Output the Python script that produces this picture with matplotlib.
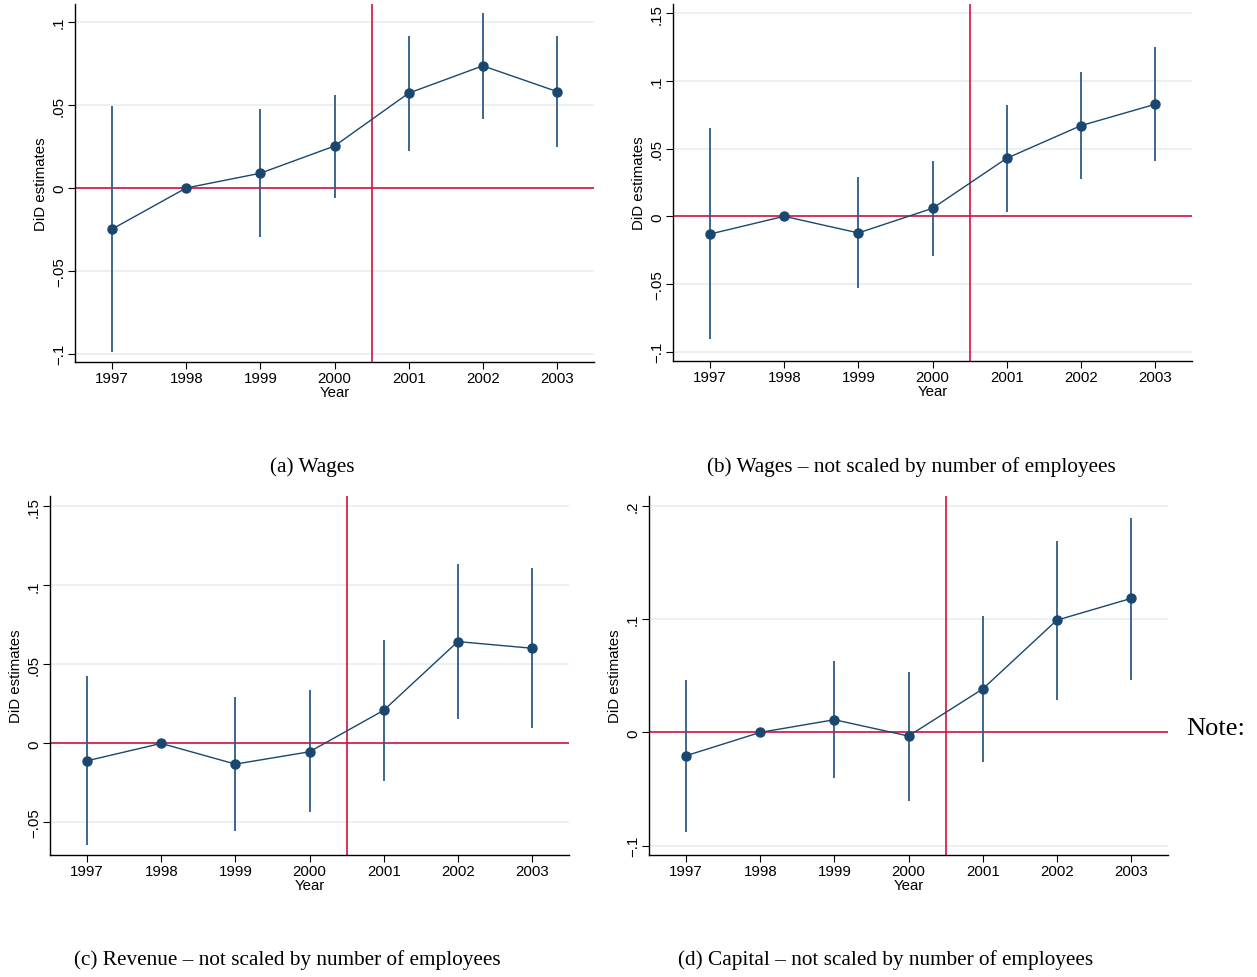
import matplotlib
matplotlib.use("Agg")
import matplotlib.pyplot as plt
from matplotlib.ticker import FuncFormatter

# event-study years
years = [1997, 1998, 1999, 2000, 2001, 2002, 2003]

# (a) Wages
wages_est = [-0.0248, 0.0, 0.0089, 0.0253, 0.0572, 0.0737, 0.0582]
wages_lo = [-0.099, 0.0, -0.0297, -0.0061, 0.0226, 0.0418, 0.0246]
wages_hi = [0.0495, 0.0, 0.0475, 0.0562, 0.0917, 0.1055, 0.0917]

# (b) Wages - not scaled
wages_ns_est = [-0.0131, 0.0, -0.0123, 0.0059, 0.0429, 0.067, 0.0828]
wages_ns_lo = [-0.0911, 0.0, -0.0532, -0.029, 0.0034, 0.0276, 0.0409]
wages_ns_hi = [0.0653, 0.0, 0.0288, 0.0406, 0.0823, 0.1067, 0.1249]

# (c) Revenue - not scaled
rev_est = [-0.011, 0.0, -0.0131, -0.0053, 0.0209, 0.0644, 0.0602]
rev_lo = [-0.0644, 0.0, -0.0553, -0.0437, -0.0241, 0.0152, 0.0097]
rev_hi = [0.0425, 0.0, 0.0292, 0.0336, 0.0655, 0.1137, 0.1109]

# (d) Capital - not scaled
cap_est = [-0.0206, 0.0, 0.0112, -0.0032, 0.0383, 0.0991, 0.1183]
cap_lo = [-0.0879, 0.0, -0.0407, -0.0605, -0.026, 0.0289, 0.0466]
cap_hi = [0.0463, 0.0, 0.0631, 0.0537, 0.1027, 0.1687, 0.1894]

captions = [
    "(a) Wages",
    "(b) Wages \u2013 not scaled by number of employees",
    "(c) Revenue \u2013 not scaled by number of employees",
    "(d) Capital \u2013 not scaled by number of employees",
]

NAVY = "#1a476f"
CI_COLOR = "#2f5c86"
RED = "#d2123f"
GRID = "#e8f0f2"
SANS = "Liberation Sans"
SERIF = "Liberation Serif"

W, H = 1257, 978


def stata_fmt(v, pos=None):
    # Stata style labels: .05, -.1, 0
    if abs(v) < 1e-12:
        return "0"
    s = ("%g" % abs(v)).lstrip("0")
    return ("\u2212" if v < 0 else "") + s


def px_axes(fig, left, right, top, bottom):
    return fig.add_axes([left / W, 1 - bottom / H, (right - left) / W, (bottom - top) / H])


def event_plot(ax, est, lo, hi, ylim, yticks):
    for t in yticks:
        ax.axhline(t, color=GRID, lw=1.3, zorder=0)
    ax.axhline(0, color=RED, lw=1.2, zorder=1)
    ax.axvline(2000.5, color=RED, lw=1.2, zorder=1)
    ax.vlines(years, lo, hi, color=CI_COLOR, lw=1.3, zorder=2)
    ax.plot(years, est, color=NAVY, lw=1.0, marker="o", ms=6.5, zorder=3)

    ax.set_xlim(1996.5, 2003.5)
    ax.set_ylim(*ylim)
    ax.set_xticks(years)
    ax.set_yticks(yticks)
    ax.yaxis.set_major_formatter(FuncFormatter(stata_fmt))
    for lab in ax.get_yticklabels():
        lab.set_rotation(90)
        lab.set_va("center")
    ax.tick_params(labelsize=10.8, length=5, width=0.8, color="black", pad=1.5)
    for lab in ax.get_xticklabels() + ax.get_yticklabels():
        lab.set_family(SANS)
    ax.set_xlabel("Year", fontsize=10.8, family=SANS, labelpad=0)
    ax.set_ylabel("DiD estimates", fontsize=10.8, family=SANS, labelpad=3)
    ax.spines["top"].set_visible(False)
    ax.spines["right"].set_visible(False)
    ax.spines["left"].set_linewidth(1.0)
    ax.spines["bottom"].set_linewidth(1.0)


fig = plt.figure(figsize=(W / 100, H / 100), dpi=100)

ax_a = px_axes(fig, 75, 594, 5, 363)
event_plot(ax_a, wages_est, wages_lo, wages_hi, (-0.105, 0.111),
           [-0.1, -0.05, 0, 0.05, 0.1])

ax_b = px_axes(fig, 673, 1192, 5, 362)
event_plot(ax_b, wages_ns_est, wages_ns_lo, wages_ns_hi, (-0.107, 0.157),
           [-0.1, -0.05, 0, 0.05, 0.1, 0.15])

ax_c = px_axes(fig, 50, 569, 497, 856)
event_plot(ax_c, rev_est, rev_lo, rev_hi, (-0.0706, 0.1565),
           [-0.05, 0, 0.05, 0.1, 0.15])

ax_d = px_axes(fig, 649, 1168, 497, 856)
event_plot(ax_d, cap_est, cap_lo, cap_hi, (-0.1083, 0.2088),
           [-0.1, 0, 0.1, 0.2])

# subfigure captions
cap_pos = [(312, 467), (911, 467), (287, 960), (886, 960)]
for (cx, cy), txt in zip(cap_pos, captions):
    fig.text(cx / W, 1 - cy / H, txt, ha="center", va="center",
             fontsize=15.3, family=SERIF)

fig.text(1186 / W, 1 - 729 / H, "Note:", ha="left", va="center",
         fontsize=19, family=SERIF)

fig.savefig("out.png", dpi=100)
